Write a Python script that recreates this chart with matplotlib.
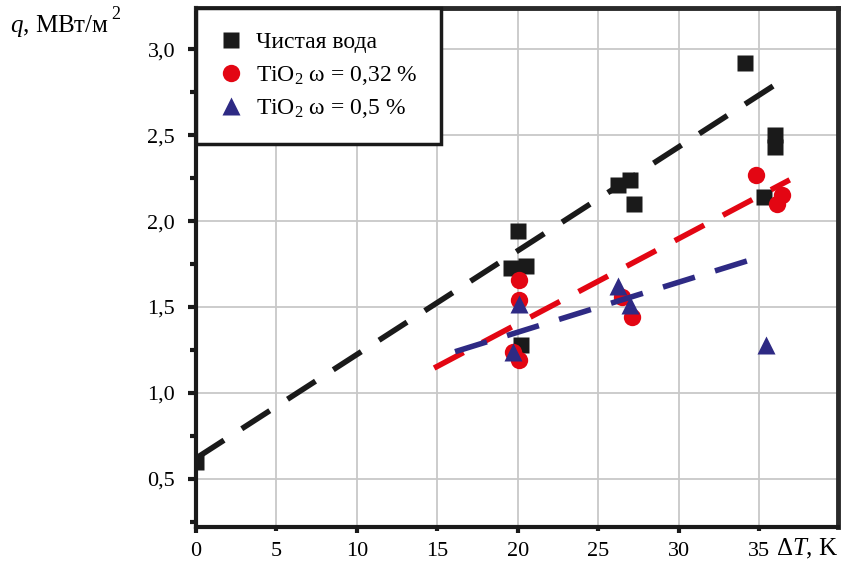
import numpy as np
import matplotlib
matplotlib.use('Agg')
import matplotlib.pyplot as plt
from matplotlib.ticker import MultipleLocator, FuncFormatter

# ── Data ──────────────────────────────────────────────────────────────────────
# pure water
dt_water = [0.0, 20.0, 19.6, 20.5, 20.2, 26.2, 27.0, 27.2, 34.1, 36.0, 36.0, 35.3]
q_water  = [0.60, 1.94, 1.73, 1.74, 1.28, 2.21, 2.24, 2.10, 2.92, 2.50, 2.43, 2.14]

# TiO2, 0.32 %
dt_032 = [20.1, 20.1, 19.7, 20.1, 26.5, 27.1, 34.8, 36.4, 36.1]
q_032  = [1.66, 1.54, 1.24, 1.19, 1.56, 1.44, 2.27, 2.15, 2.10]

# TiO2, 0.5 %
dt_05 = [20.1, 19.7, 26.2, 27.0, 35.4]
q_05  = [1.52, 1.24, 1.62, 1.51, 1.28]

# linear trends (end points)
trend_water_x, trend_water_y = [0.0, 36.1], [0.62, 2.80]
trend_032_x,   trend_032_y   = [14.8, 36.9], [1.145, 2.24]
trend_05_x,    trend_05_y    = [16.1, 35.0], [1.24, 1.79]

labels = ["Чистая вода", r"TiO$_2$ ω = 0,32 %", r"TiO$_2$ ω = 0,5 %"]

# ── Style ─────────────────────────────────────────────────────────────────────
plt.rcParams['font.family'] = ['Liberation Serif', 'DejaVu Serif']
plt.rcParams['mathtext.fontset'] = 'custom'
plt.rcParams['mathtext.rm'] = 'Liberation Serif'
plt.rcParams['mathtext.it'] = 'Liberation Serif:italic'

BLACK = '#1a1a1a'
RED   = '#e30613'
BLUE  = '#2e2a84'
DASH  = (6.0, 3.8)

fig = plt.figure(figsize=(8.42, 5.62), dpi=100)
ax = fig.add_axes([196 / 842, 1 - 527 / 562, 642 / 842, 519 / 562])

ax.plot(dt_water, q_water, 's', color=BLACK, ms=11, mec='none', zorder=3, label=labels[0])
ax.plot(dt_032, q_032, 'o', color=RED, ms=12.5, mec='none', zorder=4, label=labels[1])
ax.plot(dt_05, q_05, '^', color=BLUE, ms=13, mec='none', zorder=5, label=labels[2])

for x, y, c, z in [(trend_water_x, trend_water_y, BLACK, 6),
                   (trend_032_x, trend_032_y, RED, 6),
                   (trend_05_x, trend_05_y, BLUE, 7)]:
    ax.plot(x, y, color=c, lw=4.0, dashes=DASH, dash_capstyle='butt', zorder=z)

ax.set_xlim(0, 39.9)
ax.set_ylim(0.22, 3.24)

ax.xaxis.set_major_locator(MultipleLocator(10))
ax.xaxis.set_minor_locator(MultipleLocator(5))
ax.yaxis.set_major_locator(MultipleLocator(0.5))
ax.yaxis.set_minor_locator(MultipleLocator(0.25))

comma = FuncFormatter(lambda v, p: f"{v:.1f}".replace('.', ','))
ax.yaxis.set_major_formatter(comma)
ax.xaxis.set_major_formatter(FuncFormatter(lambda v, p: f"{v:.0f}" if v < 39 else ""))
ax.xaxis.set_minor_formatter(FuncFormatter(lambda v, p: f"{v:.0f}"))

ax.tick_params(axis='both', which='both', direction='out', width=3, color=BLACK,
               labelsize=16)
ax.tick_params(axis='x', which='major', length=4.5, pad=6.5)
ax.tick_params(axis='x', which='minor', length=3, pad=8)
ax.tick_params(axis='y', which='major', length=6, pad=9)
ax.tick_params(axis='y', which='minor', length=4, pad=9)

ax.grid(True, which='both', axis='x', color='#c8c8c8', lw=1.3, zorder=0)
ax.grid(True, which='major', axis='y', color='#c8c8c8', lw=1.3, zorder=0)
ax.set_axisbelow(True)

for side in ['left', 'bottom']:
    ax.spines[side].set_linewidth(3)
    ax.spines[side].set_color(BLACK)
for side in ['top', 'right']:
    ax.spines[side].set_linewidth(3.5)
    ax.spines[side].set_color('#2a2a2a')

leg = ax.legend(loc='upper left', borderaxespad=0, fontsize=17, frameon=True,
                fancybox=False, borderpad=1.0, handlelength=0.95, handletextpad=0.6,
                labelspacing=0.45, numpoints=1)
leg.get_frame().set_edgecolor(BLACK)
leg.get_frame().set_linewidth(2.5)
leg.get_frame().set_alpha(1)
leg.set_zorder(10)

# axis captions: the unit exponent is set as a separate, larger superscript
ylab_y = 1 - 32 / 562
ylab = fig.text(0.012, ylab_y, r"$q$, МВт/м", fontsize=18, ha='left', va='baseline')
fig.canvas.draw()
bb = ylab.get_window_extent()
fig.text(bb.x1 / 842 + 0.002, ylab_y + 13 / 562, "2", fontsize=13, ha='left', va='baseline')
fig.text(0.922, 0.0235, r"Δ$T$, K", fontsize=18, ha='left', va='center')

fig.savefig('out.png', dpi=100)
